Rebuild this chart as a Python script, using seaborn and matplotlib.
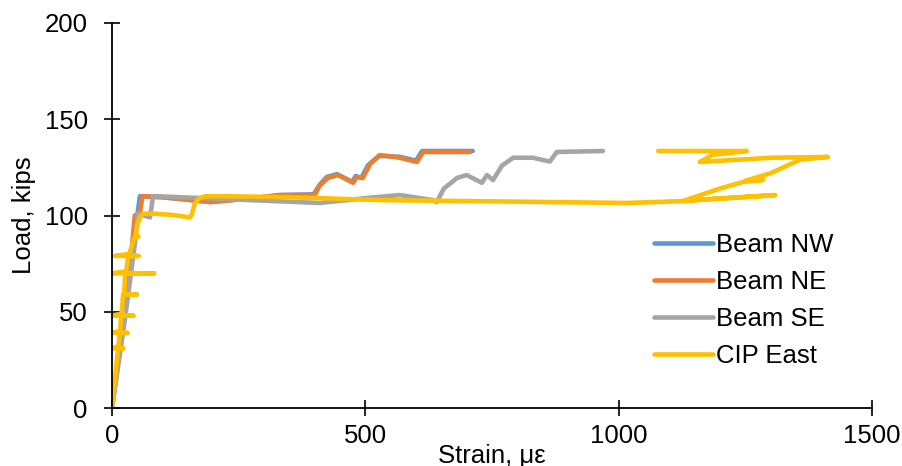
import matplotlib
matplotlib.use("Agg")
import matplotlib.pyplot as plt
import seaborn as sns
import pandas as pd

# ---- data ----
nw_strain = [0, 20, 40, 50, 55, 100, 194, 280, 330, 398, 410, 424, 444, 474, 481, 492, 505, 527, 568, 600, 612, 712]
nw_load = [0, 40, 80, 100, 110, 109.5, 107, 109, 110.6, 111, 116, 120, 121.5, 117.5, 120.5, 119.5, 126, 131, 130.5, 128.5, 133.5, 133.5]

ne_strain = [0, 20, 38, 45, 55, 60, 100, 194, 280, 330, 400, 410, 426, 446, 476, 483, 495, 510, 529, 568, 602, 614, 707]
ne_load = [0, 40, 80, 100, 101, 110, 109.5, 107, 109, 110.6, 110.6, 115.5, 119.5, 121, 117, 120, 119.5, 127, 131.4, 130, 127.8, 133, 133]

se_strain = [0, 25, 45, 51, 75, 81, 89, 272, 410, 500, 568, 634, 641, 655, 681, 700, 730, 740, 752, 770, 792, 831, 864, 878, 969]
se_load = [0, 45, 85, 101, 99, 110, 110, 108, 106.5, 109, 110.6, 108, 107, 114, 119.5, 121, 117, 121, 118.4, 126, 130, 130, 128, 133, 133.5]

cip_strain = [0, 10, 12, 22, 0, 13, 15, 30, 0, 16, 18, 42, 0, 19, 22, 49, 26, 24, 26, 83, 0, 28,
              32, 52, 6, 34, 45, 52, 47, 50, 55, 61, 81, 110, 128, 154, 158, 163, 172, 185, 230, 350, 529,
              800, 1016, 1127, 1309, 1130, 1200, 1245, 1285, 1250, 1300, 1358, 1413, 1300, 1160,
              1185, 1253, 1078]
cip_load = [0, 26, 31, 31, 31, 32, 39, 39, 39, 40, 48, 48, 48, 49, 59, 59, 59, 60, 70, 70, 70, 71,
            79, 79, 79, 80, 89, 89, 90, 95, 99, 101, 101, 100.5, 100, 99, 101, 106, 109, 110, 110, 109.5, 108,
            107.2, 106.5, 107.5, 110.6, 107.8, 114, 117.4, 118.5, 118, 122, 129, 130.4, 130, 127.8,
            131.5, 133.5, 133.5]

series_names = ["Beam NW", "Beam NE", "Beam SE", "CIP East"]
colors = ["#5B9BD5", "#ED7D31", "#A5A5A5", "#FFC000"]

frames = []
for name, xs, ys in zip(series_names,
                        [nw_strain, ne_strain, se_strain, cip_strain],
                        [nw_load, ne_load, se_load, cip_load]):
    frames.append(pd.DataFrame({"strain": xs, "load": ys, "series": name,
                                "order": range(len(xs))}))
df = pd.concat(frames, ignore_index=True)

sns.set_style("white")
plt.rcParams["font.family"] = ["Liberation Sans", "DejaVu Sans"]
plt.rcParams["text.color"] = "black"
plt.rcParams["axes.labelcolor"] = "black"

fig = plt.figure(figsize=(9.02, 4.66), dpi=100)
ax = fig.add_axes([112 / 902, 58 / 466, 760 / 902, 385 / 466])

sns.lineplot(data=df, x="strain", y="load", hue="series", hue_order=series_names,
             palette=colors, sort=False, estimator=None, linewidth=3.3, ax=ax,
             solid_capstyle="round", solid_joinstyle="round")

ax.set_xlim(0, 1500)
ax.set_ylim(0, 200)
ax.set_xticks([0, 500, 1000, 1500])
ax.set_yticks([0, 50, 100, 150, 200])
ax.tick_params(axis="both", which="major", bottom=True, left=True, direction="inout",
               length=11, width=1.2, labelsize=18.5, colors="black")
ax.tick_params(axis="y", pad=12)
ax.tick_params(axis="x", pad=6)
for s in ["top", "right"]:
    ax.spines[s].set_visible(False)
for s in ["left", "bottom"]:
    ax.spines[s].set_color("black")
    ax.spines[s].set_linewidth(1.3)

ax.set_xlabel("Strain, με", fontsize=18.5, color="black")
ax.xaxis.set_label_coords(0.5, -0.093)
ax.set_ylabel("Load, kips", fontsize=18.5, color="black")
ax.yaxis.set_label_coords(-0.1, 0.5)

leg = ax.legend(loc="upper left", bbox_to_anchor=(0.7, 0.48), frameon=False, fontsize=18.5,
                handlelength=2.3, handletextpad=0.1, labelspacing=0.5, borderaxespad=0)
for text in leg.get_texts():
    text.set_color("black")
for line in leg.get_lines():
    line.set_linewidth(3.3)

fig.savefig("out.png", dpi=100)
